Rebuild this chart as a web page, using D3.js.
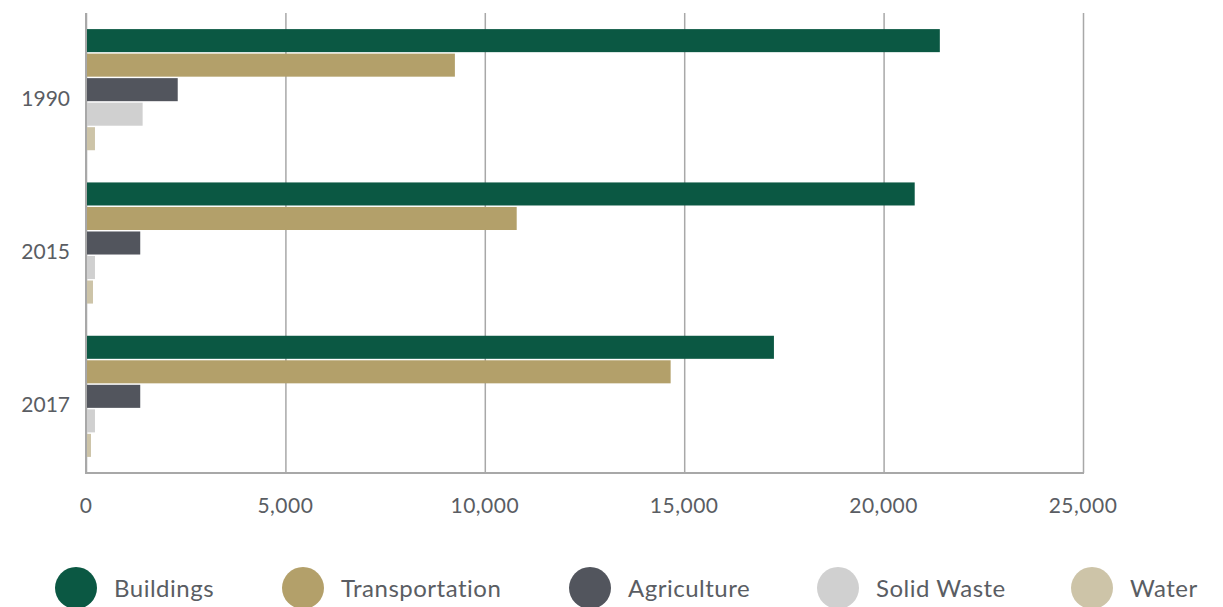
<!DOCTYPE html>
<html>
<head>
<meta charset="utf-8">
<script src="https://cdn.jsdelivr.net/npm/d3@7"></script>
<style>
  html, body { margin: 0; padding: 0; background: #fff; }
  svg { display: block; }
  text { font-family: Lato, "Noto Sans", sans-serif; fill: #5a5d63; font-weight: 400; }
</style>
</head>
<body>
<svg id="chart" width="1223" height="607"></svg>
<script>
const years = ["1990", "2015", "2017"];
const seriesNames = ["Buildings", "Transportation", "Agriculture", "Solid Waste", "Water"];
const seriesColors = ["#0b5843", "#b3a06a", "#52555d", "#d0d0d0", "#cdc4a8"];
const buildings = [21410, 20780, 17250];
const transportation = [9250, 10800, 14660];
const agriculture = [2300, 1360, 1360];
const solidWaste = [1420, 225, 225];
const water = [225, 175, 125];
const xTicks = [0, 5000, 10000, 15000, 20000, 25000];

const seriesValues = [buildings, transportation, agriculture, solidWaste, water];

(function () {
const svg = d3.select("#chart");
const mLeft = 86, mRight = 1083, mTop = 13, mBottom = 473;

const x = d3.scaleLinear().domain([0, 25000]).range([mLeft, mRight]);
const y0 = d3.scaleBand().domain(years).range([mTop, mBottom]).paddingInner(0.21).paddingOuter(0.105);
const y1 = d3.scaleBand().domain(seriesNames).range([0, y0.bandwidth()]).paddingInner(0.06);

// gridlines
svg.append("g")
  .attr("transform", `translate(0,${mBottom})`)
  .call(d3.axisBottom(x).tickValues(xTicks).tickSize(-(mBottom - mTop)).tickFormat(""))
  .call(g => g.select(".domain").remove())
  .call(g => g.selectAll(".tick line").attr("stroke", "#a8a8a8").attr("stroke-width", 1.5));

// bars
const groups = svg.append("g").selectAll("g")
  .data(years)
  .join("g")
  .attr("transform", d => `translate(0,${y0(d)})`);

groups.selectAll("rect")
  .data((yr, i) => seriesNames.map((s, j) => ({ s, v: seriesValues[j][i], c: seriesColors[j] })))
  .join("rect")
  .attr("x", x(0) + 1)
  .attr("y", d => y1(d.s))
  .attr("width", d => Math.max(0, x(d.v) - x(0) - 1))
  .attr("height", y1.bandwidth())
  .attr("fill", d => d.c);

// axes lines
svg.append("line").attr("x1", mLeft).attr("x2", mLeft).attr("y1", mTop).attr("y2", mBottom + 1)
  .attr("stroke", "#a8a8a8").attr("stroke-width", 2);
svg.append("line").attr("x1", mLeft - 1).attr("x2", mRight + 1).attr("y1", mBottom).attr("y2", mBottom)
  .attr("stroke", "#a8a8a8").attr("stroke-width", 2);

// x tick labels
svg.append("g").selectAll("text")
  .data(xTicks)
  .join("text")
  .attr("x", d => x(d))
  .attr("y", 513)
  .attr("text-anchor", "middle")
  .style("font-size", "21px")
  .style("letter-spacing", "0.5px")
  .text(d => d3.format(",")(d));

// y labels
svg.append("g").selectAll("text")
  .data(years)
  .join("text")
  .attr("x", 70)
  .attr("y", d => y0(d) + y0.bandwidth() / 2 + 16)
  .attr("text-anchor", "end")
  .style("font-size", "21px")
  .text(d => d);

// legend
const legendX = [76, 303, 590, 838, 1092];
const legend = svg.append("g").selectAll("g")
  .data(seriesNames)
  .join("g")
  .attr("transform", (d, i) => `translate(${legendX[i]},588)`);
legend.append("ellipse").attr("rx", 21).attr("ry", 21).attr("fill", (d, i) => seriesColors[i]);
legend.append("text").attr("x", 38).attr("y", 9).style("font-size", "24px")
  .style("letter-spacing", "0.5px").text(d => d);
})();
</script>
</body>
</html>
